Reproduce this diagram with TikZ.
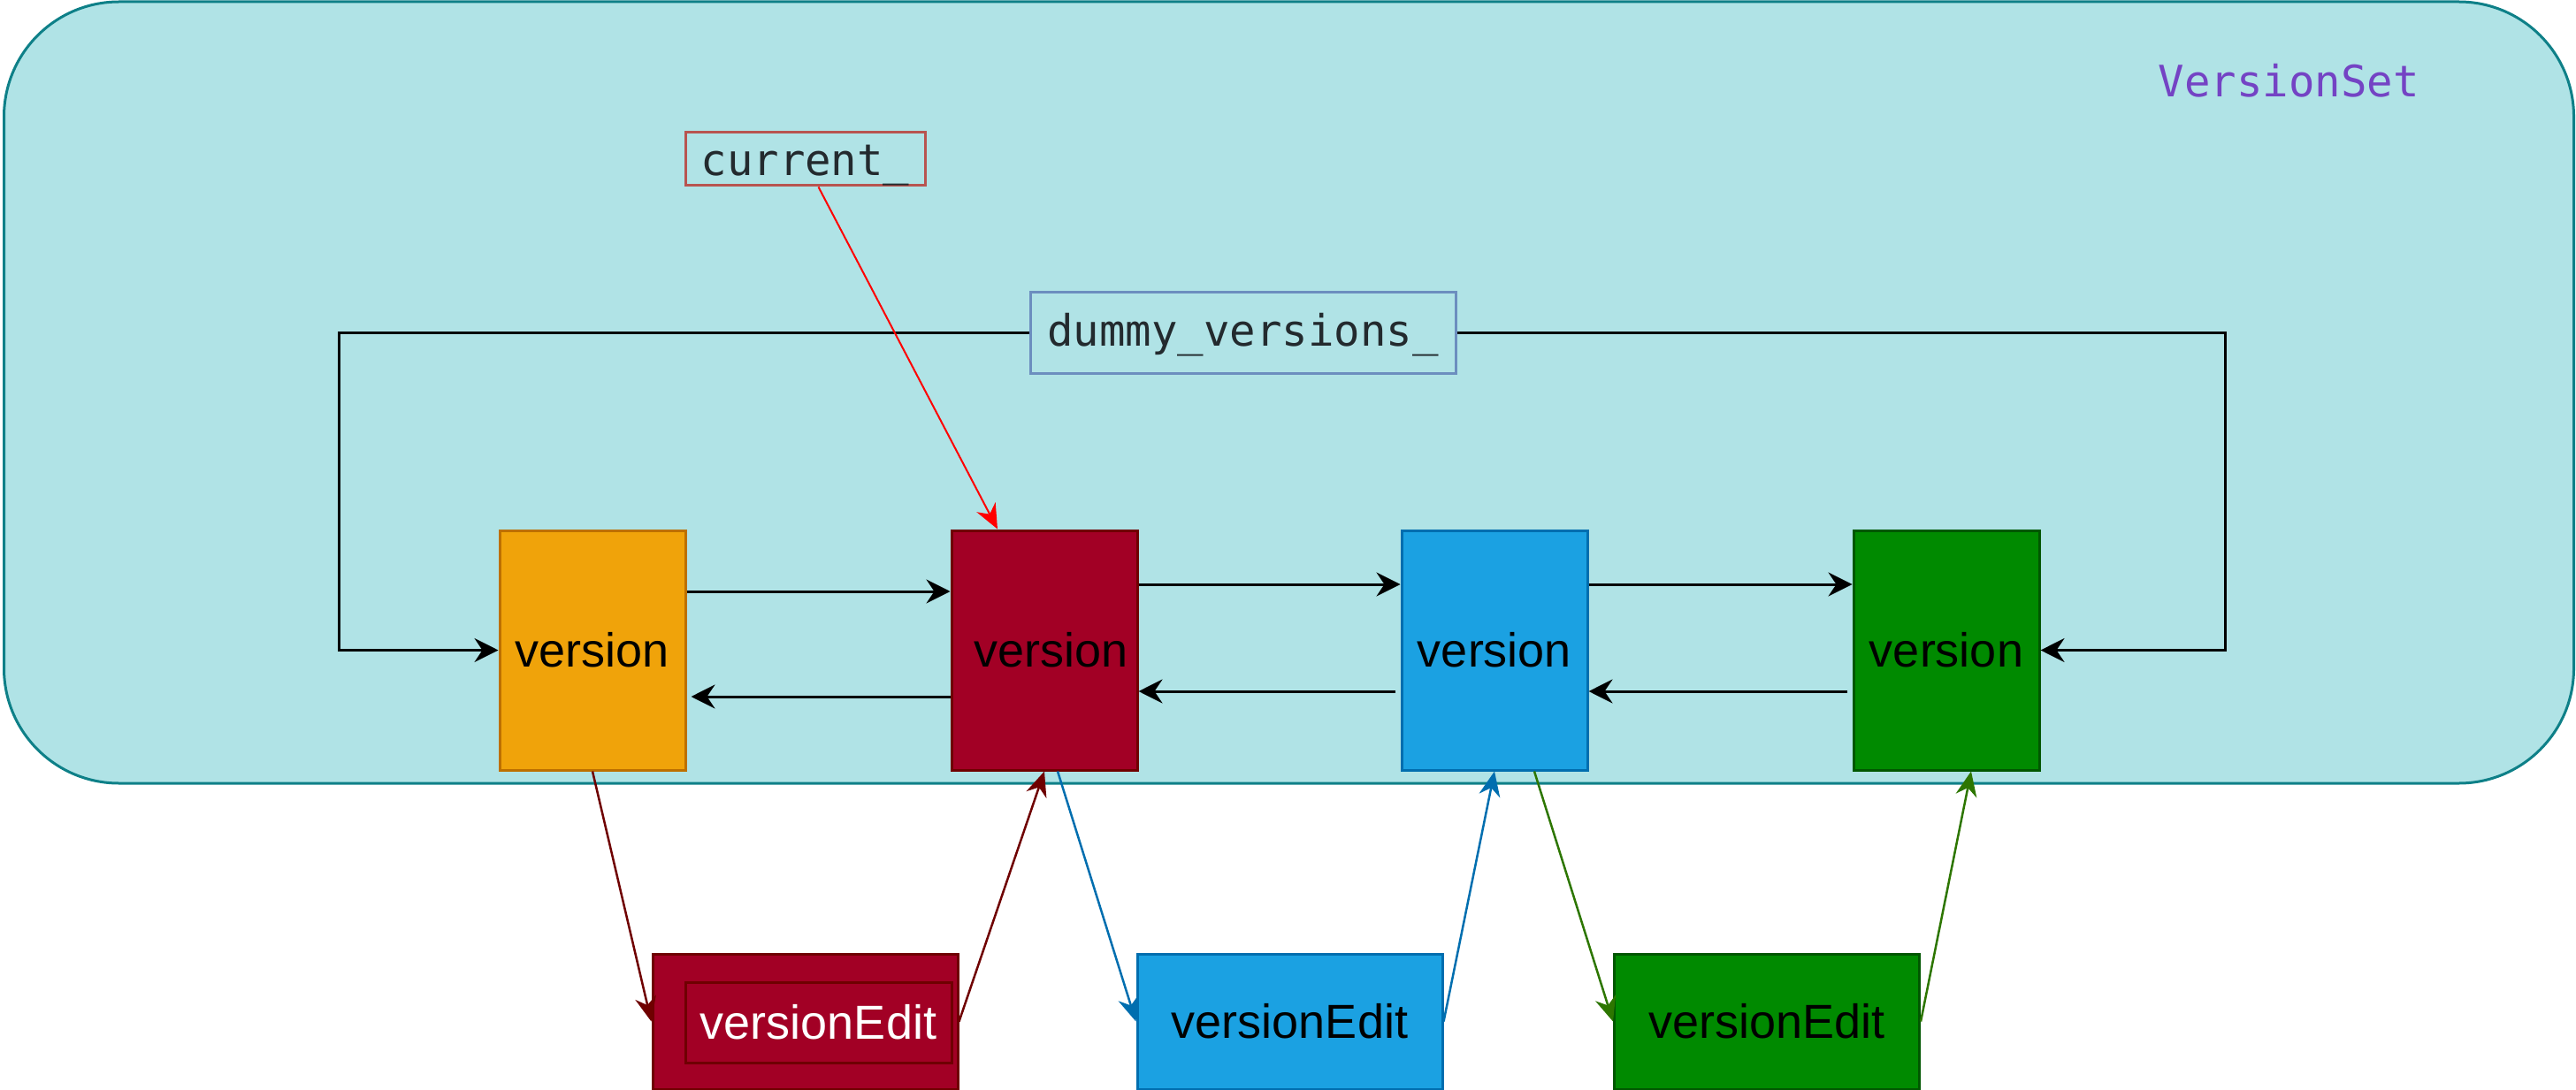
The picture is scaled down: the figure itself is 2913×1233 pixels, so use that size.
\documentclass[tikz,border=0pt]{standalone}
\usepackage{fontspec}
\setmainfont{Liberation Sans}
\newfontfamily\dvmono{DejaVu Sans Mono}
\usetikzlibrary{arrows.meta}
\definecolor{setfill}{HTML}{B0E3E6}
\definecolor{setdraw}{HTML}{0E8088}
\definecolor{setlabel}{HTML}{7443C4}
\definecolor{monotext}{HTML}{232A2E}
\definecolor{curdraw}{HTML}{B85450}
\definecolor{dumdraw}{HTML}{6C8EBF}
\definecolor{orfill}{HTML}{F0A30A}
\definecolor{ordraw}{HTML}{BD7000}
\definecolor{rdfill}{HTML}{A20025}
\definecolor{rddraw}{HTML}{6F0000}
\definecolor{blfill}{HTML}{1BA1E2}
\definecolor{bldraw}{HTML}{006EAF}
\definecolor{grfill}{HTML}{008A00}
\definecolor{grdraw}{HTML}{005700}
\definecolor{grline}{HTML}{2D7600}
\begin{document}
\begin{tikzpicture}[x=1pt,y=-1pt,
  verbox/.style={draw, line width=3pt, minimum width=210pt, minimum height=271pt, inner sep=0pt, font=\fontsize{54}{64}\selectfont},
  editbox/.style={draw, line width=3pt, minimum width=345pt, minimum height=153pt, inner sep=0pt, font=\fontsize{54}{64}\selectfont},
  monobox/.style={draw, line width=3pt, inner sep=0pt, text=monotext, font=\dvmono\fontsize{49}{58}\selectfont},
  arr/.style={line width=3pt, -{Stealth[length=27pt, width=27pt, inset=9pt]}},
  carr/.style={line width=2.5pt, -{Stealth[length=28pt, width=24pt, inset=9pt]}}
]
\useasboundingbox (0,0) rectangle (2913,1233);
% container
\node[draw=setdraw, fill=setfill, line width=3pt, rounded corners=130pt,
      minimum width=2906pt, minimum height=884pt, inner sep=0pt] (vset) at (1457.5,444) {};
\node[text=setlabel, font=\dvmono\fontsize{49}{58}\selectfont, inner sep=0pt] (vlabel) at (2588,91) {VersionSet};
% pointer boxes
\node[monobox, draw=curdraw, minimum width=271pt, minimum height=60pt, text height=37pt, text depth=0pt] (cur) at (910.5,180) {current\_};
\node[monobox, draw=dumdraw, minimum width=481pt, minimum height=91pt, text height=37pt, text depth=8pt] (dum) at (1405.5,376.5) {dummy\_versions\_};
% versions
\node[verbox, draw=ordraw, fill=orfill] (v1) at (670,735.5) {version};
\node[verbox, draw=rddraw, fill=rdfill] (v2) at (1181,735.5) {\hspace*{16pt}version};
\node[verbox, draw=bldraw, fill=blfill] (v3) at (1690,735.5) {version};
\node[verbox, draw=grdraw, fill=grfill] (v4) at (2201,735.5) {version};
% version edits
\node[editbox, draw=rddraw, fill=rdfill] (e1) at (910.5,1155.5) {};
\node[draw=rddraw, fill=rdfill, line width=3pt, minimum width=301pt, minimum height=91pt, inner sep=0pt,
      text=white, font=\fontsize{54}{64}\selectfont] (e1in) at (925.5,1156.5) {versionEdit};
\node[editbox, draw=bldraw, fill=blfill] (e2) at (1458.5,1155.5) {versionEdit};
\node[editbox, draw=grdraw, fill=grfill] (e3) at (1998,1155.5) {versionEdit};
% list links
\draw[arr] ([yshift=66.5pt]v1.east) -- ([yshift=66.5pt]v2.west);
\draw[arr] ([yshift=-52.5pt]v2.west) -- ([xshift=5pt,yshift=-52.5pt]v1.east);
\draw[arr] ([yshift=74.5pt]v2.east) -- ([yshift=74.5pt]v3.west);
\draw[arr] ([xshift=-6pt,yshift=-46.5pt]v3.west) -- ([yshift=-46.5pt]v2.east);
\draw[arr] ([yshift=74.5pt]v3.east) -- ([yshift=74.5pt]v4.west);
\draw[arr] ([xshift=-6pt,yshift=-46.5pt]v4.west) -- ([yshift=-46.5pt]v3.east);
% dummy links
\draw[arr] (dum.west) -| ([xshift=-180pt]v1.west) -- (v1.west);
\draw[arr] (dum.east) -| ([xshift=209pt]v4.east) -- (v4.east);
% current pointer
\draw[carr, draw=red, fill=red, line width=2pt] ([xshift=15pt]cur.south) -- ([xshift=-53pt]v2.north);
% edits
\draw[carr, draw=rddraw, fill=rddraw] (v1.south) -- (e1.west);
\draw[carr, draw=rddraw, fill=rddraw] (e1.east) -- (v2.south);
\draw[carr, draw=bldraw, fill=bldraw] ([xshift=15pt]v2.south) -- (e2.west);
\draw[carr, draw=bldraw, fill=bldraw] (e2.east) -- (v3.south);
\draw[carr, draw=grline, fill=grline] ([xshift=45pt]v3.south) -- (e3.west);
\draw[carr, draw=grline, fill=grline] (e3.east) -- ([xshift=28pt]v4.south);
\end{tikzpicture}
\end{document}
